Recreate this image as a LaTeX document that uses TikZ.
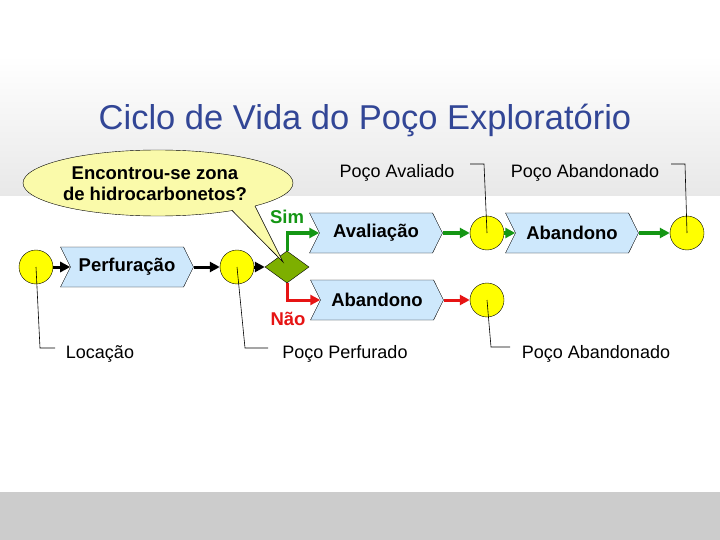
\documentclass[tikz,border=0pt]{standalone}
\usepackage{fontspec}
\setmainfont{Liberation Sans}
\usetikzlibrary{shapes.symbols,shapes.geometric,arrows.meta}
\definecolor{chev}{RGB}{206,232,252}
\definecolor{dot}{RGB}{255,255,0}
\definecolor{bub}{RGB}{250,250,170}
\definecolor{dia}{RGB}{125,175,0}
\definecolor{ttl}{RGB}{50,70,150}
\definecolor{gr}{RGB}{20,150,20}
\definecolor{rd}{RGB}{230,20,20}
\tikzset{
 chevbox/.style={signal, signal from=west, signal to=east, signal pointer angle=127, fill=chev, draw=black, minimum width=133pt, minimum height=40pt, inner sep=0pt, font=\fontsize{18.5}{20}\selectfont\bfseries},
 state/.style={circle, fill=dot, draw=black, minimum size=34pt, inner sep=0pt},
 lbl/.style={font=\fontsize{18}{20}\selectfont, inner sep=0pt},
 blk/.style={-{Triangle[length=10pt,width=10pt]}, line width=3pt},
 grn/.style={-{Triangle[length=10pt,width=10pt]}, line width=3pt, draw=gr},
 red/.style={-{Triangle[length=10pt,width=10pt]}, line width=3pt, draw=rd},
 lead/.style={draw=black, line width=0.6pt}
}
\begin{document}
\begin{tikzpicture}[x=1pt,y=-1pt]
\useasboundingbox (0,0) rectangle (720,540);
\fill[white] (0,0) rectangle (720,540);
\shade[top color=white, bottom color=black!9] (0,55) rectangle (720,196);
\fill[black!20] (0,492) rectangle (720,540);
\node[font=\fontsize{34.5}{38}\selectfont, text=ttl] (title) at (365,120) {Ciclo de Vida do Poço Exploratório};
% states
\node[state] (c1) at (36,267) {};
\node[state] (c2) at (237,267) {};
\node[state] (c3) at (487,233) {};
\node[state] (c4) at (687,233) {};
\node[state] (c5) at (487,300) {};
\node[chevbox] (perf) at (127,267) {Perfuração};
\node[chevbox] (aval) at (376,233) {Avaliação};
\node[chevbox] (ab1) at (572,233) {Abandono};
\node[chevbox] (ab2) at (377,300) {Abandono};
\node[diamond, fill=dia, draw=black, minimum width=44pt, minimum height=32pt, inner sep=0pt, aspect=1.4] (d) at (287,267) {};
% arrows
\draw[blk] (c1) -- (perf.west);
\draw[blk] (perf.east) -- (c2);
\draw[blk] (c2) -- (d.west);
\draw[grn] (d.north) |- (aval.west);
\draw[red] (d.south) |- (ab2.west);
\draw[grn] (aval.east) -- (c3);
\draw[grn] (c3) -- (ab1.west);
\draw[grn] (ab1.east) -- (c4);
\draw[red] (ab2.east) -- (c5);
\node[font=\fontsize{18.5}{20}\selectfont\bfseries, text=gr] (sim) at (287,217) {Sim};
\node[font=\fontsize{18.5}{20}\selectfont\bfseries, text=rd] (nao) at (288,319) {Não};
% labels and leaders
\node[lbl] (l1) at (100,354) {Locação};
\node[lbl] (l2) at (345,354) {Poço Perfurado};
\node[lbl] (l3) at (596,354) {Poço Abandonado};
\node[lbl] (l4) at (397,173) {Poço Avaliado};
\node[lbl] (l5) at (585,173) {Poço Abandonado};
\draw[lead] (c1.center) -- (40,348) -- (55,348);
\draw[lead] (c2.center) -- (245,348) -- (268,348);
\draw[lead] (c5.center) -- (491,347) -- (510,347);
\draw[lead] (470,164) -- (484,164) -- (c3.center);
\draw[lead] (671,164) -- (685,164) -- (c4.center);
% bubble
\node[ellipse, fill=bub, draw=black, minimum width=270pt, minimum height=66pt, inner sep=0pt] (bubble) at (158,183) {};
\fill[bub] (232,210.4) -- (283,262) -- (255,206) -- (255,199) -- (232,204) -- cycle;
\draw[line width=0.6pt] (232,210.4) -- (283,262) -- (255,206);
\node[font=\fontsize{18.5}{21}\selectfont\bfseries, align=center] (q) at (155,184) {Encontrou-se zona\\de hidrocarbonetos?};
\end{tikzpicture}
\end{document}
